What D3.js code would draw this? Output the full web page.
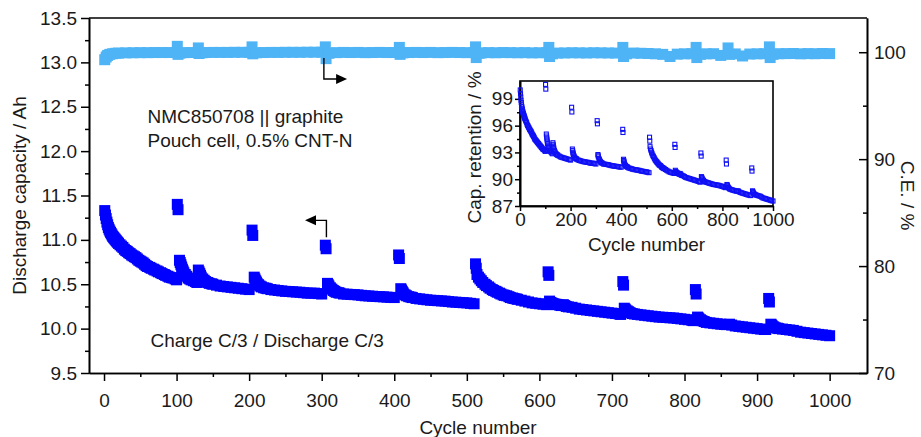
<!DOCTYPE html>
<html>
<head>
<meta charset="utf-8">
<script src="https://cdn.jsdelivr.net/npm/d3@7"></script>
<style>
  body { margin: 0; background: #fff; }
  svg { display: block; font-family: "Liberation Sans", Arial, sans-serif; }
</style>
</head>
<body>
<div id="vis"></div>
<script>
var width = 921;
var height = 437;

// discharge capacity of the regular C/3 cycles: [cycle, Ah]
var capacityPoints = [
  [1, 11.33], [2, 11.28], [3, 11.24], [4, 11.20], [5, 11.17], [6, 11.14], [7, 11.12], [8, 11.10], [9, 11.085], [10, 11.07],
  [11, 11.055], [12, 11.04], [13, 11.03], [14, 11.02], [15, 11.01], [16, 11.00], [17, 10.99], [18, 10.98], [19, 10.97], [20, 10.96],
  [22, 10.945], [24, 10.93], [26, 10.915], [28, 10.895], [30, 10.88], [32, 10.87], [34, 10.855], [36, 10.845], [38, 10.83], [40, 10.82],
  [42, 10.81], [44, 10.80], [46, 10.785], [48, 10.77], [50, 10.76], [52, 10.75], [54, 10.74], [56, 10.725], [58, 10.71], [60, 10.70],
  [63, 10.69], [65, 10.68], [68, 10.67], [70, 10.66], [73, 10.65], [75, 10.64], [78, 10.63], [80, 10.62], [83, 10.61], [85, 10.60],
  [88, 10.59], [90, 10.58], [93, 10.575], [95, 10.57], [98, 10.56], [100, 10.55],

  [104, 10.77], [105, 10.745], [106, 10.72], [107, 10.695], [108, 10.67], [109, 10.65], [110, 10.63], [112, 10.61], [114, 10.59], [116, 10.57],
  [118, 10.56], [120, 10.55], [123, 10.54], [126, 10.53], [128, 10.52], [130, 10.66], [131, 10.64], [132, 10.62], [133, 10.60], [134, 10.58],
  [136, 10.56], [138, 10.545], [140, 10.53], [143, 10.52], [145, 10.51], [148, 10.505], [150, 10.50], [155, 10.49], [160, 10.48], [165, 10.475],
  [170, 10.47], [175, 10.465], [180, 10.46], [185, 10.455], [190, 10.45], [195, 10.445], [200, 10.44],

  [207, 10.58], [208, 10.56], [209, 10.54], [210, 10.525], [211, 10.51], [213, 10.495], [215, 10.48], [217, 10.47], [220, 10.46], [223, 10.455],
  [225, 10.45], [230, 10.44], [235, 10.435], [240, 10.43], [245, 10.425], [250, 10.42], [255, 10.418], [260, 10.415], [265, 10.412], [270, 10.41],
  [275, 10.405], [280, 10.40], [285, 10.40], [290, 10.40], [295, 10.395], [300, 10.39],

  [308, 10.51], [309, 10.495], [310, 10.48], [312, 10.46], [314, 10.445], [316, 10.43], [318, 10.42], [320, 10.41], [323, 10.405], [325, 10.40],
  [330, 10.39], [335, 10.388], [340, 10.385], [345, 10.383], [350, 10.38], [355, 10.375], [360, 10.37], [365, 10.368], [370, 10.365], [375, 10.362],
  [380, 10.36], [385, 10.358], [390, 10.355], [395, 10.352], [400, 10.35],

  [409, 10.45], [410, 10.435], [411, 10.42], [412, 10.405], [413, 10.39], [415, 10.38], [417, 10.37], [420, 10.36], [423, 10.355], [425, 10.35],
  [430, 10.34], [435, 10.335], [440, 10.33], [445, 10.325], [450, 10.32], [455, 10.318], [460, 10.315], [465, 10.312], [470, 10.31], [475, 10.305],
  [480, 10.30], [485, 10.298], [490, 10.295], [495, 10.292], [500, 10.29], [505, 10.285], [510, 10.28],

  [514, 10.61], [516, 10.58], [518, 10.56], [520, 10.54], [522, 10.52], [525, 10.50], [527, 10.485], [530, 10.47], [532, 10.455], [535, 10.44],
  [537, 10.43], [540, 10.42], [542, 10.41], [545, 10.40], [547, 10.39], [550, 10.38], [552, 10.375], [555, 10.37], [558, 10.36], [560, 10.35],
  [563, 10.345], [565, 10.34], [568, 10.335], [570, 10.33], [575, 10.32], [580, 10.31], [585, 10.30], [590, 10.29], [595, 10.285], [600, 10.28],
  [605, 10.275], [610, 10.27],

  [614, 10.31], [616, 10.295], [618, 10.285], [620, 10.28], [623, 10.275], [625, 10.27], [628, 10.265], [630, 10.26], [633, 10.27], [635, 10.26],
  [637, 10.25], [640, 10.245], [645, 10.24], [650, 10.23], [655, 10.22], [660, 10.215], [665, 10.21], [670, 10.205], [675, 10.20], [680, 10.195],
  [685, 10.19], [690, 10.185], [695, 10.18], [700, 10.175], [705, 10.17], [710, 10.165], [712, 10.16],

  [717, 10.23], [718, 10.22], [719, 10.21], [721, 10.20], [723, 10.19], [725, 10.18], [728, 10.17], [731, 10.165], [735, 10.16], [740, 10.155],
  [745, 10.15], [750, 10.145], [755, 10.14], [760, 10.135], [765, 10.13], [770, 10.128], [775, 10.125], [780, 10.122], [785, 10.12], [790, 10.115],
  [795, 10.11], [800, 10.105], [805, 10.10], [810, 10.095], [812, 10.09],

  [818, 10.13], [819, 10.12], [820, 10.11], [822, 10.10], [824, 10.09], [827, 10.08], [830, 10.07], [835, 10.065], [840, 10.06], [845, 10.055],
  [850, 10.05], [855, 10.047], [858, 10.045], [862, 10.05], [865, 10.04], [870, 10.03], [875, 10.025], [880, 10.02], [885, 10.015], [890, 10.01],
  [895, 10.005], [900, 10.00], [905, 9.995], [910, 9.99], [912, 9.99],

  [919, 10.05], [920, 10.04], [921, 10.03], [923, 10.02], [925, 10.01], [928, 10.005], [930, 10.00], [935, 9.995], [940, 9.99], [945, 9.985],
  [950, 9.98], [955, 9.97], [960, 9.96], [965, 9.955], [970, 9.95], [975, 9.945], [980, 9.94], [985, 9.935], [990, 9.93], [995, 9.925],
  [1000, 9.92]
];

// reference performance check cycles: [cycle, Ah]
var rptPoints = [
  [101, 11.40], [102, 11.34], [204, 11.11], [205, 11.05], [305, 10.94], [306, 10.90], [406, 10.83], [407, 10.79], [512, 10.73], [513, 10.68],
  [612, 10.64], [613, 10.60], [715, 10.53], [716, 10.49], [815, 10.44], [816, 10.39], [916, 10.34], [917, 10.30]
];

// coulombic efficiency: [cycle, %]
var cePoints = [
  [1, 99.30], [3, 99.55], [5, 99.70], [8, 99.80], [12, 99.86], [16, 99.90], [20, 99.92], [30, 99.94], [40, 99.95], [50, 99.96],
  [60, 99.96], [70, 99.97], [80, 99.97], [90, 99.97], [100, 99.98], [101, 100.55], [102, 99.80], [105, 99.92], [110, 99.96], [120, 99.97],
  [130, 100.40], [131, 99.88], [135, 99.95], [140, 99.97], [150, 99.98], [160, 99.98], [170, 99.98], [180, 99.99], [190, 99.99], [200, 99.99],
  [204, 100.50], [205, 99.85], [210, 99.95], [220, 99.97], [230, 99.98], [240, 99.98], [250, 99.99], [260, 99.99], [270, 99.99], [280, 100.00],
  [290, 100.00], [300, 100.00], [305, 100.50], [306, 99.40], [310, 99.90], [320, 99.96], [330, 99.98], [340, 99.97], [350, 99.98], [360, 99.96],
  [370, 99.97], [380, 99.98], [390, 99.97], [400, 99.97], [407, 100.45], [408, 99.80], [412, 99.94], [420, 99.97], [430, 99.98], [440, 99.97],
  [450, 99.98], [460, 99.96], [470, 99.97], [480, 99.98], [490, 99.97], [500, 99.96], [510, 99.97], [512, 100.50], [513, 99.50], [517, 99.90],
  [520, 99.94], [530, 99.96], [540, 99.95], [550, 99.97], [560, 99.96], [570, 99.95], [580, 99.96], [590, 99.94], [600, 99.95], [610, 99.96],
  [613, 100.45], [614, 99.60], [618, 99.85], [625, 99.92], [635, 99.93], [645, 99.95], [655, 99.94], [665, 99.93], [675, 99.95], [685, 99.94],
  [695, 99.93], [705, 99.92], [715, 100.45], [716, 99.60], [720, 99.85], [730, 99.92], [740, 99.90], [750, 99.88], [760, 99.85], [770, 99.80],
  [780, 99.60], [790, 99.82], [800, 99.85], [810, 99.86], [816, 100.45], [817, 99.50], [822, 99.80], [830, 99.85], [840, 99.86], [850, 99.70],
  [860, 100.40], [862, 99.80], [870, 99.84], [880, 99.65], [890, 99.83], [900, 99.85], [910, 99.86], [917, 100.50], [918, 99.50], [922, 99.80],
  [930, 99.86], [940, 99.87], [950, 99.88], [960, 99.85], [970, 99.87], [980, 99.86], [990, 99.88], [1000, 99.87]
];

var capTicks = [9.5, 10.0, 10.5, 11.0, 11.5, 12.0, 12.5, 13.0, 13.5];
var ceTicks = [70, 80, 90, 100];
var cycleTicks = [0, 100, 200, 300, 400, 500, 600, 700, 800, 900, 1000];
var insetCycleTicks = [0, 200, 400, 600, 800, 1000];
var retentionTicks = [87, 90, 93, 96, 99];

var blue = "#0000ff";
var lightBlue = "#4fb4f6";
var fontSize = 19;
var textColor = "#1a1a1a";

var svg = d3.select("#vis").append("svg")
  .attr("width", width)
  .attr("height", height)
  .attr("viewBox", [0, 0, width, height]);

var m = {left: 89, right: 867, top: 18, bottom: 373};

var x = d3.scaleLinear().domain([-20.7, 1051.5]).range([m.left, m.right]);
var yCap = d3.scaleLinear().domain([9.5, 13.5]).range([m.bottom, m.top]);
var yCE = d3.scaleLinear().domain([70, 103.2]).range([m.bottom, m.top]);

function styleAxis(g) {
  g.attr("font-family", null).attr("font-size", null);
  g.select(".domain").attr("stroke", "#000").attr("stroke-width", 1.6);
  g.selectAll(".tick line").attr("stroke", "#000").attr("stroke-width", 1.5);
  g.selectAll(".tick text").attr("fill", textColor).style("font-size", fontSize + "px");
}

// frame top line
svg.append("line")
  .attr("x1", m.left).attr("x2", m.right)
  .attr("y1", m.top).attr("y2", m.top)
  .attr("stroke", "#000").attr("stroke-width", 1.6);

var fmtInt = d3.format("d");

// bottom axis
svg.append("g")
  .attr("transform", `translate(0,${m.bottom})`)
  .call(d3.axisBottom(x).tickValues(d3.range(50, 1001, 100)).tickSize(4).tickSizeOuter(0).tickFormat(""))
  .call(styleAxis);
svg.append("g")
  .attr("transform", `translate(0,${m.bottom})`)
  .call(d3.axisBottom(x).tickValues(cycleTicks).tickSize(8).tickSizeOuter(0).tickPadding(13).tickFormat(fmtInt))
  .call(styleAxis);

// left axis
svg.append("g")
  .attr("transform", `translate(${m.left},0)`)
  .call(d3.axisLeft(yCap).tickValues(d3.range(9.75, 13.5, 0.5)).tickSize(4).tickSizeOuter(0).tickFormat(""))
  .call(styleAxis);
svg.append("g")
  .attr("transform", `translate(${m.left},0)`)
  .call(d3.axisLeft(yCap).tickValues(capTicks).tickSize(8).tickSizeOuter(0).tickPadding(4).tickFormat(d3.format(".1f")))
  .call(styleAxis);

// right axis, ticks pointing inward
svg.append("g")
  .attr("transform", `translate(${m.right},0)`)
  .call(d3.axisRight(yCE).tickValues([75, 85, 95]).tickSizeInner(-4).tickSizeOuter(0).tickFormat(""))
  .call(styleAxis);
svg.append("g")
  .attr("transform", `translate(${m.right},0)`)
  .call(d3.axisRight(yCE).tickValues(ceTicks).tickSizeInner(-8).tickSizeOuter(0).tickPadding(7).tickFormat(fmtInt))
  .call(styleAxis);

// axis titles
svg.append("text")
  .attr("transform", `translate(26,${(m.top + m.bottom) / 2}) rotate(-90)`)
  .attr("text-anchor", "middle")
  .style("font-size", fontSize + "px")
  .attr("fill", textColor)
  .text("Discharge capacity / Ah");

svg.append("text")
  .attr("transform", `translate(901,${(m.top + m.bottom) / 2}) rotate(90)`)
  .attr("text-anchor", "middle")
  .style("font-size", fontSize + "px")
  .attr("fill", textColor)
  .text("C.E. / %");

svg.append("text")
  .attr("x", (m.left + m.right) / 2)
  .attr("y", 434)
  .attr("text-anchor", "middle")
  .style("font-size", fontSize + "px")
  .attr("fill", textColor)
  .text("Cycle number");

// data marks
var sq = 11;

svg.append("g")
  .attr("fill", lightBlue)
  .selectAll("rect")
  .data(cePoints)
  .join("rect")
  .attr("x", d => x(d[0]) - sq / 2)
  .attr("y", d => yCE(d[1]) - sq / 2)
  .attr("width", sq)
  .attr("height", sq);

svg.append("g")
  .attr("fill", blue)
  .selectAll("rect")
  .data(capacityPoints.concat(rptPoints))
  .join("rect")
  .attr("x", d => x(d[0]) - sq / 2)
  .attr("y", d => yCap(d[1]) - sq / 2)
  .attr("width", sq)
  .attr("height", sq);

// annotations
svg.append("text")
  .attr("x", x(60)).attr("y", 123)
  .style("font-size", fontSize + "px").attr("fill", textColor)
  .text("NMC850708 || graphite");
svg.append("text")
  .attr("x", x(60)).attr("y", 147)
  .style("font-size", fontSize + "px").attr("fill", textColor)
  .text("Pouch cell, 0.5% CNT-N");
svg.append("text")
  .attr("x", x(64)).attr("y", 347)
  .style("font-size", fontSize + "px").attr("fill", textColor)
  .text("Charge C/3 / Discharge C/3");

// arrow to right axis (C.E.)
var ax1 = x(303), ay1 = yCE(99.45), ay2 = yCE(97.5), tip1 = x(335);
svg.append("path")
  .attr("d", `M${ax1},${ay1}V${ay2}H${tip1 - 9}`)
  .attr("fill", "none").attr("stroke", "#000").attr("stroke-width", 1.4);
svg.append("path")
  .attr("d", `M${tip1},${ay2}l-11,-5v10z`)
  .attr("fill", "#000");

// arrow to left axis (capacity)
var bx1 = x(306.5), by1 = yCap(11.03), by2 = yCap(11.22), tip2 = x(277);
svg.append("path")
  .attr("d", `M${bx1},${by1}V${by2}H${tip2 + 9}`)
  .attr("fill", "none").attr("stroke", "#000").attr("stroke-width", 1.4);
svg.append("path")
  .attr("d", `M${tip2},${by2}l11,-5v10z`)
  .attr("fill", "#000");

// inset: capacity retention relative to the first cycle
var ins = {left: 520, right: 773, top: 81, bottom: 206};
var xi = d3.scaleLinear().domain([0, 1000]).range([ins.left, ins.right]);
var yi = d3.scaleLinear().domain([87, 101]).range([ins.bottom, ins.top]);
var cap0 = capacityPoints[0][1];

var inset = svg.append("g");
inset.append("rect")
  .attr("x", ins.left).attr("y", ins.top)
  .attr("width", ins.right - ins.left).attr("height", ins.bottom - ins.top)
  .attr("fill", "#fff").attr("stroke", "#000").attr("stroke-width", 1.6);

inset.append("g")
  .attr("transform", `translate(0,${ins.bottom})`)
  .call(d3.axisBottom(xi).tickValues(d3.range(100, 1000, 200)).tickSize(3).tickSizeOuter(0).tickFormat(""))
  .call(styleAxis);
inset.append("g")
  .attr("transform", `translate(0,${ins.bottom})`)
  .call(d3.axisBottom(xi).tickValues(insetCycleTicks).tickSize(5).tickSizeOuter(0).tickPadding(2).tickFormat(fmtInt))
  .call(styleAxis);
inset.append("g")
  .attr("transform", `translate(${ins.left},0)`)
  .call(d3.axisLeft(yi).tickValues(d3.range(88.5, 100, 3)).tickSize(3).tickSizeOuter(0).tickFormat(""))
  .call(styleAxis);
inset.append("g")
  .attr("transform", `translate(${ins.left},0)`)
  .call(d3.axisLeft(yi).tickValues(retentionTicks).tickSize(5).tickSizeOuter(0).tickPadding(2).tickFormat(fmtInt))
  .call(styleAxis);

inset.append("text")
  .attr("x", (ins.left + ins.right) / 2)
  .attr("y", 251)
  .attr("text-anchor", "middle")
  .style("font-size", fontSize + "px").attr("fill", textColor)
  .text("Cycle number");
inset.append("text")
  .attr("transform", `translate(481,${(ins.top + ins.bottom) / 2 + 4}) rotate(-90)`)
  .attr("text-anchor", "middle")
  .style("font-size", fontSize + "px").attr("fill", textColor)
  .text("Cap. retention / %");

var isq = 4;
inset.append("g")
  .attr("fill", "none")
  .attr("stroke", "#1010f5")
  .attr("stroke-width", 1.1)
  .selectAll("rect")
  .data(capacityPoints.concat(rptPoints))
  .join("rect")
  .attr("x", d => xi(d[0]) - isq / 2)
  .attr("y", d => yi(d[1] / cap0 * 100) - isq / 2)
  .attr("width", isq)
  .attr("height", isq);
</script>
</body>
</html>
